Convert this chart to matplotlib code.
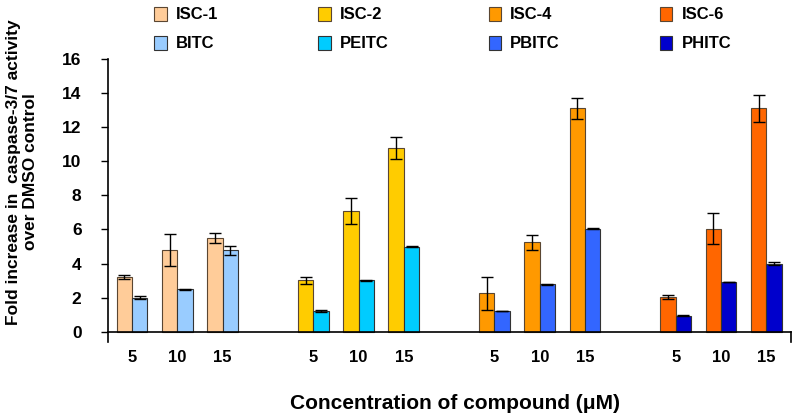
import matplotlib
matplotlib.use("Agg")
import matplotlib.pyplot as plt
import numpy as np

plt.rcParams['font.family'] = ['Liberation Sans', 'DejaVu Sans']
plt.rcParams['font.weight'] = 'bold'

concentrations = ["5", "10", "15"]
isc_names = ["ISC-1", "ISC-2", "ISC-4", "ISC-6"]
itc_names = ["BITC", "PEITC", "PBITC", "PHITC"]
isc_colors = ["#FFCC99", "#FFCC00", "#FF9900", "#FF6600"]
itc_colors = ["#99CCFF", "#00CCFF", "#3366FF", "#0000CC"]

isc_values = [[3.22, 4.80, 5.50],
              [3.01, 7.10, 10.80],
              [2.25, 5.25, 13.10],
              [2.03, 6.05, 13.10]]
isc_errors = [[0.10, 0.95, 0.32],
              [0.20, 0.75, 0.65],
              [0.97, 0.45, 0.63],
              [0.10, 0.90, 0.80]]
itc_values = [[2.00, 2.48, 4.78],
              [1.23, 3.01, 5.00],
              [1.20, 2.78, 6.05],
              [0.94, 2.92, 4.00]]
itc_errors = [[0.08, 0.03, 0.26],
              [0.06, 0.01, 0.02],
              [0.01, 0.02, 0.03],
              [0.03, 0.02, 0.10]]

fig = plt.figure(figsize=(8, 4.16), dpi=100)
ax = fig.add_axes([0.135, 0.178, 0.854, 0.680])

w = 0.34
handles_isc, handles_itc = [], []
for g in range(4):
    pos = np.arange(3) + 4 * g
    b1 = ax.bar(pos - w / 2, isc_values[g], w, color=isc_colors[g],
                edgecolor="#5a4632", linewidth=0.8, label=isc_names[g], zorder=2)
    ax.errorbar(pos - w / 2, isc_values[g], yerr=isc_errors[g], fmt="none",
                ecolor="black", elinewidth=1, capsize=4, capthick=1, zorder=3)
    b2 = ax.bar(pos + w / 2, itc_values[g], w, color=itc_colors[g],
                edgecolor="#333333", linewidth=0.8, label=itc_names[g], zorder=2)
    ax.errorbar(pos + w / 2, itc_values[g], yerr=itc_errors[g], fmt="none",
                ecolor="black", elinewidth=1, capsize=4, capthick=1, zorder=3)
    handles_isc.append(b1)
    handles_itc.append(b2)
    for p, c in zip(pos, concentrations):
        ax.text(p, -1.05, c, ha="center", va="top", fontsize=12, fontweight="bold")

xmin, xmax = -0.53, 14.55
ax.set_xlim(xmin, xmax)
ax.set_ylim(-0.6, 16)
ax.set_xticks([])
ax.set_yticks(range(0, 17, 2))
ax.tick_params(axis="y", direction="out", length=5, width=1, labelsize=12.5, pad=14)
for lbl in ax.get_yticklabels():
    lbl.set_fontweight("bold")
for s in ["top", "right", "bottom"]:
    ax.spines[s].set_visible(False)
ax.spines["left"].set_linewidth(1.2)
ax.plot([xmin, xmax], [0, 0], color="black", lw=1.2, clip_on=False, zorder=4)
ax.plot([xmax, xmax], [0, -0.6], color="black", lw=1.2, clip_on=False, zorder=4)

fig.text(0.028, 0.587, "Fold increase in  caspase-3/7 activity\nover DMSO control",
         rotation=90, ha="center", va="center", multialignment="center",
         fontsize=12.5, fontweight="bold", linespacing=1.15)
fig.text(0.569, 0.031, "Concentration of compound (\u03bcM)", ha="center", va="center",
         fontsize=15, fontweight="bold")

handles = []
for a, b in zip(handles_isc, handles_itc):
    handles += [a, b]
leg = fig.legend(handles, [h.get_label() for h in handles], ncol=4,
                 loc="upper left", bbox_to_anchor=(0.174, 1.02), frameon=False,
                 prop={"weight": "bold", "size": 12}, handlelength=0.75,
                 handleheight=0.9, columnspacing=6.0, labelspacing=0.8,
                 handletextpad=0.55)

fig.savefig("out.png", dpi=100)
